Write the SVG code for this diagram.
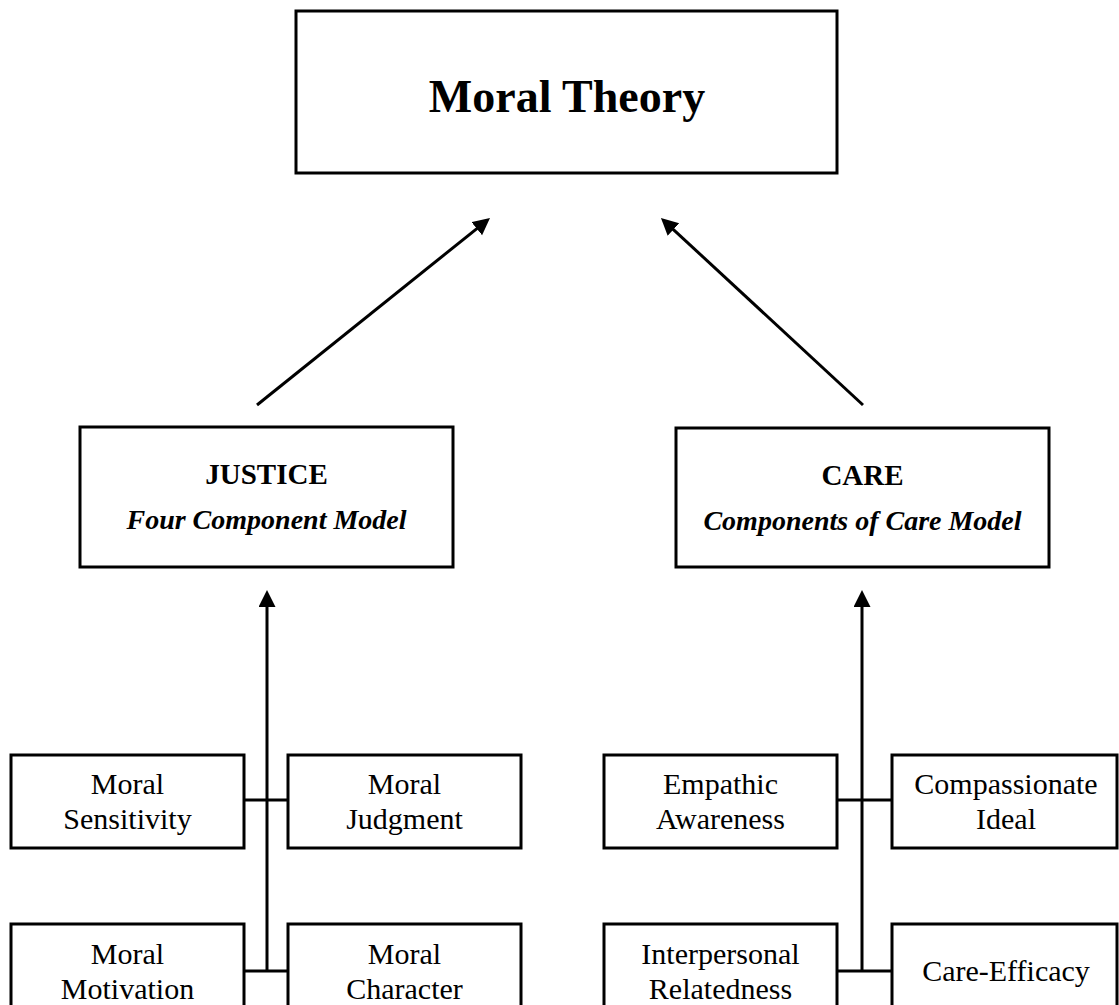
<svg xmlns="http://www.w3.org/2000/svg" width="1119" height="1005" viewBox="0 0 1119 1005">
<style>
.box{fill:#fff;stroke:#000;stroke-width:3}
.ln{stroke:#000;stroke-width:3;fill:none}
text{font-family:"Liberation Serif","Times New Roman",serif;fill:#000;text-anchor:middle}
.title{font-size:46px;font-weight:bold}
.hd{font-size:29px;font-weight:bold}
.sub{font-size:28px;font-weight:bold;font-style:italic}
.lb{font-size:30px}
</style>
<defs>
<marker id="ah" markerUnits="userSpaceOnUse" markerWidth="18" markerHeight="18" refX="7" refY="8.5" orient="auto">
<path d="M0,0 L17,8.5 L0,17 Z" fill="#000"/>
</marker>
</defs>
<rect width="1119" height="1005" fill="#fff"/>
<g id="connectors">
<line class="ln" x1="257" y1="405" x2="482.2" y2="224.3" marker-end="url(#ah)"/>
<line class="ln" x1="863" y1="405" x2="668.3" y2="224.8" marker-end="url(#ah)"/>
<line class="ln" x1="267" y1="971" x2="267" y2="600" marker-end="url(#ah)"/>
<line class="ln" x1="862" y1="971" x2="862" y2="600" marker-end="url(#ah)"/>
<line class="ln" x1="244" y1="800" x2="288" y2="800"/>
<line class="ln" x1="244" y1="971" x2="288" y2="971"/>
<line class="ln" x1="837" y1="800" x2="892" y2="800"/>
<line class="ln" x1="837" y1="971" x2="892" y2="971"/>
</g>
<g id="moral-theory">
<rect class="box" x="296" y="11" width="541" height="162"/>
<text class="title" x="567" y="112">Moral Theory</text>
</g>
<g id="justice">
<rect class="box" x="80" y="427" width="373" height="140"/>
<text class="hd" x="266.5" y="484">JUSTICE</text>
<text class="sub" x="266.5" y="529">Four Component Model</text>
</g>
<g id="care">
<rect class="box" x="676" y="428" width="373" height="139"/>
<text class="hd" x="862.5" y="485">CARE</text>
<text class="sub" x="862.5" y="530">Components of Care Model</text>
</g>
<g id="moral-sensitivity">
<rect class="box" x="11" y="755" width="233" height="93"/>
<text class="lb" x="127.5" y="794">Moral</text>
<text class="lb" x="127.5" y="829">Sensitivity</text>
</g>
<g id="moral-judgment">
<rect class="box" x="288" y="755" width="233" height="93"/>
<text class="lb" x="404.5" y="794">Moral</text>
<text class="lb" x="404.5" y="829">Judgment</text>
</g>
<g id="moral-motivation">
<rect class="box" x="11" y="924" width="233" height="93"/>
<text class="lb" x="127.5" y="964">Moral</text>
<text class="lb" x="127.5" y="999">Motivation</text>
</g>
<g id="moral-character">
<rect class="box" x="288" y="924" width="233" height="93"/>
<text class="lb" x="404.5" y="964">Moral</text>
<text class="lb" x="404.5" y="999">Character</text>
</g>
<g id="empathic-awareness">
<rect class="box" x="604" y="755" width="233" height="93"/>
<text class="lb" x="720.5" y="794">Empathic</text>
<text class="lb" x="720.5" y="829">Awareness</text>
</g>
<g id="compassionate-ideal">
<rect class="box" x="892" y="755" width="225" height="93"/>
<text class="lb" x="1006" y="794">Compassionate</text>
<text class="lb" x="1006" y="829">Ideal</text>
</g>
<g id="interpersonal-relatedness">
<rect class="box" x="604" y="924" width="233" height="93"/>
<text class="lb" x="720.5" y="964">Interpersonal</text>
<text class="lb" x="720.5" y="999">Relatedness</text>
</g>
<g id="care-efficacy">
<rect class="box" x="892" y="924" width="225" height="93"/>
<text class="lb" x="1006" y="981">Care-Efficacy</text>
</g>
</svg>
